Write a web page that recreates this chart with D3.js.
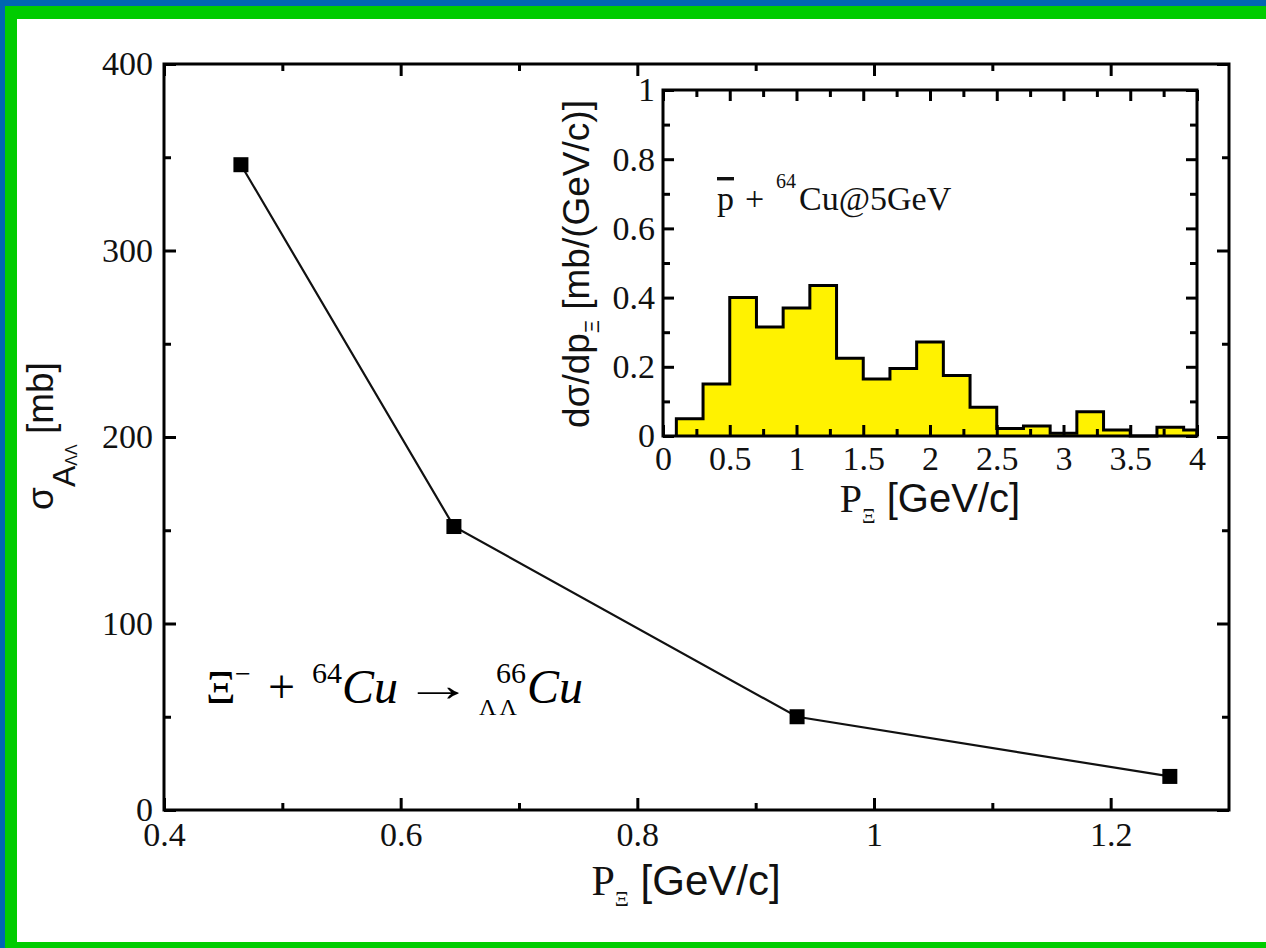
<!DOCTYPE html>
<html>
<head>
<meta charset="utf-8">
<script src="https://cdn.jsdelivr.net/npm/d3@7"></script>
<style>
  body { margin: 0; background: #fff; }
  svg { display: block; }
</style>
</head>
<body>
<svg id="chart" width="1266" height="948"></svg>
<script>
// Double-Lambda hypernucleus production cross section vs Xi momentum
const momentum = [0.465, 0.645, 0.935, 1.25];
const crossSection = [346, 152, 50, 18];

const xMajor = [0.4, 0.6, 0.8, 1.0, 1.2];
const xMajorLabels = ["0.4", "0.6", "0.8", "1", "1.2"];
const xMinor = [0.5, 0.7, 0.9, 1.1];
const yMajor = [0, 100, 200, 300, 400];
const yMajorLabels = ["0", "100", "200", "300", "400"];
const yMinor = [50, 150, 250, 350];

// Xi momentum spectrum from pbar + 64Cu at 5 GeV (histogram)
const binEdges = [0.1, 0.3, 0.5, 0.7, 0.9, 1.1, 1.3, 1.5, 1.7, 1.9, 2.1,
                  2.3, 2.5, 2.7, 2.9, 3.1, 3.3, 3.5, 3.7, 3.9, 4.0];
const binValues = [0.05, 0.15, 0.40, 0.315, 0.37, 0.435, 0.225, 0.165, 0.195, 0.272,
                   0.175, 0.083, 0.022, 0.029, 0.008, 0.070, 0.017, 0, 0.025, 0.017];

const insetXMajor = [0, 0.5, 1, 1.5, 2, 2.5, 3, 3.5, 4];
const insetXLabels = ["0", "0.5", "1", "1.5", "2", "2.5", "3", "3.5", "4"];
const insetXMinor = [0.25, 0.75, 1.25, 1.75, 2.25, 2.75, 3.25, 3.75];
const insetYMajor = [0, 0.2, 0.4, 0.6, 0.8, 1];
const insetYLabels = ["0", "0.2", "0.4", "0.6", "0.8", "1"];
const insetYMinor = [0.1, 0.3, 0.5, 0.7, 0.9];

const svg = d3.select("#chart");
const W = 1266, H = 948;
const SERIF = "'Liberation Serif', 'Times New Roman', serif";
const SANS = "'Liberation Sans', Arial, sans-serif";

// Slide frame: blue outer band, green inner band, white page
svg.append("rect").attr("x", 0).attr("y", 0).attr("width", W).attr("height", H).attr("fill", "#0066b3");
svg.append("rect").attr("x", 5).attr("y", 6).attr("width", W - 5).attr("height", H - 6).attr("fill", "#00cc00");
svg.append("rect").attr("x", 17).attr("y", 19).attr("width", W - 17).attr("height", 942 - 19).attr("fill", "#ffffff");

// Draws a boxed frame with inward ticks on all four sides
function frame(g, x, y, o) {
  const [x0, x1] = x.range();
  const [y0, y1] = y.range();
  const style = sel => {
    sel.select(".domain").remove();
    sel.selectAll(".tick line").attr("stroke", "#000").attr("stroke-width", 3);
    sel.selectAll(".tick text").attr("font-family", SERIF).attr("font-size", o.fontSize).attr("fill", "#111");
  };
  const lab = labels => (d, i) => labels[i];
  g.append("g").attr("transform", `translate(0,${y0})`)
    .call(d3.axisBottom(x).tickValues(o.xMajor).tickFormat(lab(o.xLabels)).tickSize(-o.major).tickPadding(o.xPad)).call(style);
  g.append("g").attr("transform", `translate(0,${y0})`)
    .call(d3.axisBottom(x).tickValues(o.xMinor).tickFormat("").tickSize(-o.minor)).call(style);
  g.append("g").attr("transform", `translate(0,${y1})`)
    .call(d3.axisTop(x).tickValues(o.xMajor).tickFormat("").tickSize(-o.major)).call(style);
  g.append("g").attr("transform", `translate(0,${y1})`)
    .call(d3.axisTop(x).tickValues(o.xMinor).tickFormat("").tickSize(-o.minor)).call(style);
  g.append("g").attr("transform", `translate(${x0},0)`)
    .call(d3.axisLeft(y).tickValues(o.yMajor).tickFormat(lab(o.yLabels)).tickSize(-o.major).tickPadding(o.yPad)).call(style);
  g.append("g").attr("transform", `translate(${x0},0)`)
    .call(d3.axisLeft(y).tickValues(o.yMinor).tickFormat("").tickSize(-o.minor)).call(style);
  g.append("g").attr("transform", `translate(${x1},0)`)
    .call(d3.axisRight(y).tickValues(o.yMajor).tickFormat("").tickSize(-o.major)).call(style);
  g.append("g").attr("transform", `translate(${x1},0)`)
    .call(d3.axisRight(y).tickValues(o.yMinor).tickFormat("").tickSize(-o.minor)).call(style);
  g.append("rect").attr("x", x0).attr("y", y1).attr("width", x1 - x0).attr("height", y0 - y1)
    .attr("fill", "none").attr("stroke", "#000").attr("stroke-width", 3);
}

// ---------- main plot ----------
const x = d3.scaleLinear().domain([0.4, 1.3]).range([164, 1229]);
const y = d3.scaleLinear().domain([0, 400]).range([810, 64]);
const main = svg.append("g");

main.append("path")
  .datum(momentum.map((m, i) => [m, crossSection[i]]))
  .attr("fill", "none").attr("stroke", "#111").attr("stroke-width", 2.2)
  .attr("d", d3.line().x(d => x(d[0])).y(d => y(d[1])));

const ms = 15;
main.selectAll("rect.pt").data(momentum).join("rect").attr("class", "pt")
  .attr("x", (d) => x(d) - ms / 2).attr("y", (d, i) => y(crossSection[i]) - ms / 2)
  .attr("width", ms).attr("height", ms).attr("fill", "#000");

frame(main, x, y, { xMajor, xLabels: xMajorLabels, xMinor, yMajor, yLabels: yMajorLabels, yMinor,
  major: 12, minor: 7, fontSize: 34, xPad: 12, yPad: 11 });

// x title
const xt = main.append("text").attr("x", 686).attr("y", 895).attr("text-anchor", "middle")
  .attr("font-family", SANS).attr("font-size", 42).attr("fill", "#111");
xt.append("tspan").attr("font-family", SERIF).text("P");
xt.append("tspan").attr("font-family", SERIF).attr("font-size", 22).attr("dy", 11).text("Ξ");
xt.append("tspan").attr("dy", -11).text(" [GeV/c]");

// y title
const yt = main.append("text").attr("transform", "translate(53,436) rotate(-90)").attr("text-anchor", "middle")
  .attr("font-family", SANS).attr("font-size", 37).attr("fill", "#111");
yt.append("tspan").text("σ");
yt.append("tspan").attr("font-size", 32).attr("dy", 22).text("A");
yt.append("tspan").attr("font-size", 16).attr("dy", 2).text("ΛΛ");
yt.append("tspan").attr("dy", -24).text(" [mb]");

// reaction label
const rx = main.append("text").attr("y", 703).attr("font-family", SERIF).attr("font-size", 48).attr("fill", "#000");
rx.append("tspan").attr("x", 206).attr("font-size", 46).text("Ξ");
rx.append("tspan").attr("x", 235).attr("font-size", 28).attr("dy", -20).text("−");
rx.append("tspan").attr("x", 268).attr("dy", 20).text("+");
rx.append("tspan").attr("x", 312).attr("font-size", 30).attr("dy", -20).text("64");
rx.append("tspan").attr("x", 342).attr("font-style", "italic").attr("dy", 20).text("Cu");
rx.append("tspan").attr("x", 479).attr("font-size", 24).attr("letter-spacing", 3).attr("dy", 12).text("ΛΛ");
rx.append("tspan").attr("x", 496).attr("font-size", 30).attr("dy", -32).text("66");
rx.append("tspan").attr("x", 527).attr("font-style", "italic").attr("dy", 20).text("Cu");

// long reaction arrow: the glyph is stretched horizontally
main.append("text").attr("font-family", SERIF).attr("font-size", 46)
  .attr("transform", "translate(404,701) scale(1.5,1)")
  .attr("fill", "#000").text("→");

// ---------- inset histogram ----------
const ix = d3.scaleLinear().domain([0, 4]).range([663, 1197]);
const iy = d3.scaleLinear().domain([0, 1]).range([436, 90]);
const inset = svg.append("g");

const steps = [[binEdges[0], 0]];
binValues.forEach((v, i) => { steps.push([binEdges[i], v]); steps.push([binEdges[i + 1], v]); });
steps.push([binEdges[binEdges.length - 1], 0]);
inset.append("path").datum(steps)
  .attr("fill", "#fff200").attr("stroke", "#000").attr("stroke-width", 3).attr("stroke-linejoin", "miter")
  .attr("d", d3.line().x(d => ix(d[0])).y(d => iy(d[1])));

frame(inset, ix, iy, { xMajor: insetXMajor, xLabels: insetXLabels, xMinor: insetXMinor,
  yMajor: insetYMajor, yLabels: insetYLabels, yMinor: insetYMinor,
  major: 11, minor: 7, fontSize: 34, xPad: 10, yPad: 8 });

const ixt = inset.append("text").attr("x", 930).attr("y", 512).attr("text-anchor", "middle")
  .attr("font-family", SANS).attr("font-size", 40).attr("fill", "#111");
ixt.append("tspan").attr("font-family", SERIF).text("P");
ixt.append("tspan").attr("font-family", SERIF).attr("font-size", 21).attr("dy", 11).text("Ξ");
ixt.append("tspan").attr("dy", -11).text(" [GeV/c]");

const iyt = inset.append("text").attr("transform", "translate(589,264) rotate(-90)").attr("text-anchor", "middle")
  .attr("font-family", SANS).attr("font-size", 37).attr("fill", "#111");
iyt.append("tspan").text("dσ/dp");
iyt.append("tspan").attr("font-size", 20).attr("dy", 10).text("Ξ");
iyt.append("tspan").attr("dy", -10).text(" [mb/(GeV/c)]");

const rl = inset.append("text").attr("y", 210).attr("font-family", SERIF).attr("font-size", 34).attr("fill", "#111");
rl.append("tspan").attr("x", 717).style("text-decoration", "overline").text("p");
rl.append("tspan").attr("x", 745).text("+");
rl.append("tspan").attr("x", 776).attr("font-size", 20).attr("dy", -22).text("64");
rl.append("tspan").attr("x", 799).attr("dy", 22).text("Cu@5GeV");
</script>
</body>
</html>
